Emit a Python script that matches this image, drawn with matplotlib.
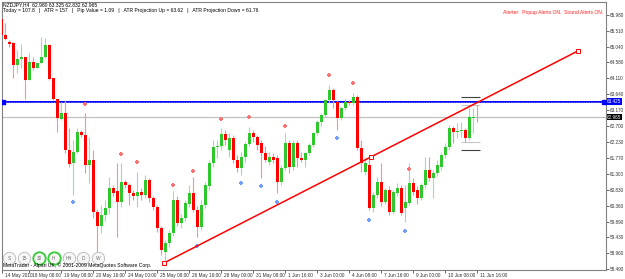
import matplotlib
matplotlib.use("Agg")
import matplotlib.pyplot as plt
from matplotlib.patches import Rectangle
from matplotlib.transforms import ScaledTranslation

# NZDJPY H4 candles
opens = [65.85, 65.38, 65.18, 65.15, 64.50, 64.68, 64.74, 64.06, 64.59, 64.42,
         64.56, 64.74, 65.09, 64.12, 63.50, 62.91, 63.09, 62.00, 61.62, 61.94,
         62.53, 62.44, 61.56, 61.71, 60.18, 59.76, 60.09, 60.29, 60.88, 60.79,
         60.47, 61.06, 60.97, 60.74, 60.65, 60.77, 60.68, 61.12, 60.59, 60.32,
         59.71, 59.00, 59.27, 59.56, 60.53, 59.85, 60.00, 60.41, 60.74, 60.24,
         59.74, 60.38, 60.94, 61.62, 62.09, 62.12, 62.47, 62.00, 62.35, 61.71,
         61.47, 61.79, 62.18, 62.50, 62.38, 62.21, 61.91, 61.65, 61.79, 61.77,
         61.06, 61.47, 62.21, 61.50, 62.21, 61.77, 61.71, 61.91, 62.15, 62.50,
         62.82, 63.03, 63.47, 63.77, 63.41, 62.94, 63.24, 63.41, 63.38, 63.56,
         62.06, 61.35, 61.56, 60.29, 60.68, 61.06, 60.47, 60.82, 60.18, 60.74,
         60.88, 60.29, 60.44, 61.03, 60.82, 60.59, 60.97, 61.41, 61.18, 61.32,
         61.50, 61.85, 62.09, 62.65, 62.53, 62.56, 62.59, 62.35, 62.94, 62.980]
highs = [65.91, 65.74, 65.24, 65.18, 64.94, 65.12, 64.74, 64.85, 64.74, 64.57,
         65.33, 65.29, 65.11, 64.12, 63.50, 63.41, 63.47, 62.65, 62.29, 62.65,
         62.59, 63.09, 62.38, 62.00, 60.26, 60.38, 60.53, 61.21, 60.97, 61.62,
         61.62, 61.12, 61.03, 60.82, 61.35, 60.88, 61.27, 61.18, 60.65, 60.38,
         59.76, 59.35, 59.65, 60.79, 60.65, 60.12, 60.53, 60.97, 61.21, 60.35,
         60.53, 61.06, 61.71, 62.29, 62.29, 62.65, 62.59, 62.50, 62.44, 61.85,
         61.94, 62.24, 62.68, 62.59, 62.44, 62.29, 62.12, 61.94, 61.91, 61.85,
         61.56, 62.50, 62.29, 62.29, 62.29, 61.94, 61.94, 62.21, 62.53, 62.88,
         63.09, 63.50, 63.91, 63.82, 63.47, 63.27, 63.50, 63.47, 63.68, 63.62,
         62.29, 61.79, 61.79, 60.77, 61.21, 61.62, 60.88, 60.94, 60.82, 61.03,
         60.97, 60.97, 61.62, 61.18, 60.94, 61.03, 61.79, 61.79, 61.41, 61.71,
         61.94, 62.21, 62.74, 62.71, 62.79, 62.82, 62.65, 63.24, 63.24, 63.325]
lows = [65.03, 65.24, 65.03, 64.12, 64.27, 64.41, 63.50, 64.06, 64.35, 64.40,
        64.55, 64.70, 64.06, 63.47, 62.54, 62.88, 61.91, 61.50, 60.68, 61.91,
        62.38, 61.32, 61.03, 60.00, 59.00, 59.56, 59.91, 60.12, 60.65, 59.44,
        60.32, 60.88, 60.38, 60.53, 60.32, 60.53, 60.59, 60.47, 60.24, 59.59,
        58.91, 58.68, 59.15, 59.47, 59.76, 59.71, 59.91, 60.32, 60.18, 59.44,
        59.65, 60.29, 60.82, 61.50, 61.77, 62.00, 62.15, 61.79, 61.62, 61.35,
        61.27, 61.65, 62.12, 62.24, 62.00, 61.18, 61.65, 61.56, 61.62, 60.74,
        60.97, 61.41, 61.32, 61.41, 61.50, 61.65, 61.50, 61.85, 62.09, 62.44,
        62.71, 62.97, 63.41, 63.24, 62.59, 62.88, 63.18, 63.32, 63.32, 62.00,
        61.35, 61.27, 60.24, 60.18, 60.59, 60.35, 60.41, 60.09, 60.12, 60.65,
        60.09, 59.88, 60.38, 60.68, 60.41, 60.53, 60.88, 61.09, 60.59, 61.24,
        61.41, 61.77, 62.00, 62.21, 62.35, 62.38, 62.24, 62.29, 62.50, 62.832]
closes = [65.38, 65.27, 65.12, 64.50, 64.68, 64.73, 64.06, 64.59, 64.41, 64.55,
          64.74, 65.09, 64.09, 63.50, 62.94, 63.09, 62.00, 61.59, 61.94, 62.53,
          62.44, 61.56, 61.71, 60.18, 59.76, 60.09, 60.29, 60.88, 60.74, 60.47,
          61.06, 60.97, 60.74, 60.65, 60.77, 60.68, 61.12, 60.59, 60.32, 59.71,
          59.06, 59.27, 59.56, 60.53, 59.85, 60.00, 60.44, 60.74, 60.24, 59.74,
          60.38, 60.97, 61.62, 62.09, 62.12, 62.47, 62.29, 62.35, 61.71, 61.47,
          61.79, 62.18, 62.50, 62.38, 62.15, 61.91, 61.71, 61.79, 61.71, 61.06,
          61.47, 62.21, 61.50, 62.21, 61.77, 61.71, 61.91, 62.15, 62.50, 62.82,
          63.03, 63.47, 63.77, 63.47, 62.94, 63.24, 63.41, 63.38, 63.56, 62.06,
          61.62, 61.62, 60.29, 60.68, 61.06, 60.47, 60.82, 60.18, 60.77, 60.88,
          60.15, 60.47, 61.03, 60.77, 60.59, 60.97, 61.41, 61.18, 61.32, 61.56,
          61.85, 62.09, 62.65, 62.53, 62.56, 62.59, 62.35, 62.97, 62.98, 62.965]

# fractal arrows (bar index, price)
up_bars = [21, 30, 34, 43, 48, 55, 62, 71, 82, 88, 102]
up_prices = [63.34, 61.88, 61.64, 60.97, 61.38, 62.91, 62.96, 62.71, 64.20, 63.97, 61.44]
down_bars = [18, 49, 60, 65, 69, 84, 92, 101]
down_prices = [60.46, 59.18, 61.02, 60.94, 60.46, 62.36, 59.95, 59.63]

# trendline anchors
trend_x = [40.7, 144.1]
trend_y = [58.68, 64.91]

blue_level = 63.425
bid_level = 62.965
atr_levels = [63.55, 62.00]
day_levels = [63.32, 62.24]

price_ticks = [65.980, 65.510, 65.040, 64.580, 64.110, 63.640, 63.170, 62.700,
               62.230, 61.770, 61.300, 60.830, 60.360, 59.890, 59.430, 58.960, 58.490]
date_labels = ["14 May 2010", "18 May 08:00", "19 May 08:00", "20 May 16:00",
               "24 May 00:00", "25 May 08:00", "26 May 16:00", "28 May 00:00",
               "31 May 08:00", "1 Jun 16:00", "3 Jun 00:00", "4 Jun 08:00",
               "7 Jun 16:00", "9 Jun 00:00", "10 Jun 08:00", "11 Jun 16:00"]
date_bars = [0.2, 7, 15, 23, 31, 39, 47, 55, 63, 71, 79, 87, 95, 103, 111, 119]

buttons = ["S", "15", "30", "H", "H4", "D", "W"]
active = ["30", "H"]

FS = 3.6
plt.rcParams['font.family'] = ['Liberation Sans', 'DejaVu Sans']

fig = plt.figure(figsize=(6.25, 2.79), dpi=100)
fig.patch.set_facecolor('white')
ax = fig.add_axes([2 / 625, 9 / 279, 604 / 625, 268 / 279])
ax.set_xlim(0.175, 151.18)
ax.set_ylim(58.471, 66.353)

bull, bear = '#2ec82e', '#ff0000'
bull_w, bear_w = '#9ee09e', '#ff9090'
for i in range(len(opens)):
    o, h, l, c = opens[i], highs[i], lows[i], closes[i]
    up = c >= o
    ax.vlines(i, l, h, color=bull_w if up else bear_w, lw=0.8, zorder=2)
    body = max(abs(c - o), 0.02)
    ax.add_patch(Rectangle((i - 0.38, min(o, c)), 0.76, body,
                           facecolor=bull if up else bear, edgecolor='none', zorder=3))

ax.axhline(blue_level, color='#0000ff', lw=1.4, zorder=1)
ax.axhline(blue_level, color='#8c8cff', lw=0.6, ls=(0, (1, 1)), zorder=1)
ax.scatter([0.5, 150.8], [blue_level, blue_level], marker='s', s=5, color='#0000ff', zorder=4)
ax.axhline(bid_level, color='#c0c0c0', lw=0.9, zorder=1)

ax.hlines(atr_levels, 115, 119.6, color='#404040', lw=0.8, zorder=4)
ax.hlines(day_levels, 115, 119.6, color='#c8c8c8', lw=0.8, zorder=1)

ax.plot(trend_x, trend_y, color='#ff0000', lw=1.1, zorder=5)
mid_x = [(trend_x[0] + trend_x[1]) / 2]
mid_y = [(trend_y[0] + trend_y[1]) / 2]
ax.plot(trend_x + mid_x, trend_y + mid_y, ls='none', marker='s', ms=2.6,
        mfc='white', mec='#ff0000', mew=0.7, zorder=6)

ax.scatter(up_bars, up_prices, marker='P', s=7, color='#ff7070', lw=0, zorder=4)
ax.scatter(down_bars, down_prices, marker='P', s=7, color='#6f9cff', lw=0, zorder=4)

for sp in ax.spines.values():
    sp.set_color('#808080')
    sp.set_linewidth(0.8)

ax.yaxis.tick_right()
ax.set_yticks(price_ticks)
ax.set_yticklabels([f"{v:.3f}" for v in price_ticks])
ax.tick_params(axis='y', length=2, width=0.5, pad=1, labelsize=3.3, colors='#303030')
ax.set_xticks(date_bars)
ax.set_xticklabels(date_labels)
ax.tick_params(axis='x', length=2, width=0.5, pad=0.3, labelsize=3.4, colors='#303030')
shift = ScaledTranslation(2.5 / 100, 0, fig.dpi_scale_trans)
for lab in ax.get_xticklabels():
    lab.set_horizontalalignment('left')
    lab.set_transform(lab.get_transform() + shift)

# price tags on the right scale
tr = ax.get_yaxis_transform()
ax.text(1.002, blue_level, f"{blue_level:.3f}", transform=tr, fontsize=3.3, color='white',
        va='center', ha='left', bbox=dict(fc='#0000ff', ec='none', pad=0.5), clip_on=False)
ax.text(1.002, bid_level, f"{bid_level:.3f}", transform=tr, fontsize=3.3, color='white',
        va='center', ha='left', bbox=dict(fc='#000000', ec='none', pad=0.5), clip_on=False)

fig.text(3 / 625, 1 - 4.5 / 279, "NZDJPY,H4  62.980 63.325 62.832 62.965", fontsize=FS, va='center')
fig.text(3 / 625, 1 - 10.7 / 279,
         "Today = 107.8   |   ATR = 157   |   Pip Value = 1.09   |   "
         "ATR Projection Up = 63.62   |   ATR Projection Down = 61.76",
         fontsize=FS, va='center')
fig.text(603 / 625, 1 - 12.7 / 279, "Alerter:  Popup Alerts ON.  Sound Alerts ON.",
         fontsize=FS, color='#ff2020', va='center', ha='right')
fig.text(3 / 625, 1 - 265.5 / 279, "MetaTrader - Alpari UK, \u00a9 2001-2009 MetaQuotes Software Corp.",
         fontsize=FS, va='center')

for k, b in enumerate(buttons):
    bx = (9.3 + 14.8 * k) / 625
    by = 1 - 258 / 279
    on = b in active
    ax.scatter([bx], [by], s=80, transform=fig.transFigure, facecolor='#f6f6f6',
               edgecolor='#33cc33' if on else '#b8b8b8', lw=1.3 if on else 0.6, zorder=7)
    fig.text(bx, by, b, fontsize=3.4, color='#707070', ha='center', va='center', zorder=8)

fig.savefig("out.png", dpi=100)
